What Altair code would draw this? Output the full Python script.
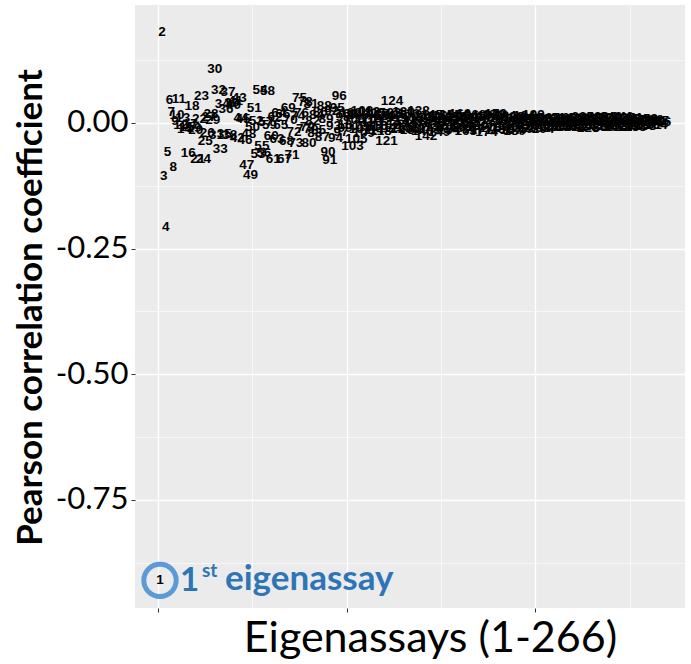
import altair as alt
import pandas as pd

# Pearson correlation of each eigenassay (1..266)
corr = [
    -0.910, 0.180, -0.105, -0.208, -0.057, 0.045, 0.022, -0.087, 0.004, 0.015,
    0.048, -0.005, 0.010, -0.012, -0.008, -0.060, -0.002, 0.034, -0.010, -0.015,
    -0.072, 0.008, 0.054, -0.072, -0.036, -0.020, 0.012, 0.018, 0.005, 0.108,
    -0.025, 0.065, -0.052, 0.038, -0.022, 0.028, 0.062, -0.024, 0.040, 0.035,
    0.044, -0.030, 0.050, 0.010, 0.008, -0.034, -0.083, -0.022, -0.104, -0.008,
    0.030, 0.004, -0.062, 0.066, -0.045, -0.060, 0.002, 0.063, -0.005, -0.026,
    -0.072, 0.012, -0.032, 0.020, -0.004, 0.018, -0.072, -0.036, 0.030, 0.006,
    -0.064, -0.018, -0.040, 0.014, 0.050, 0.020, -0.012, 0.042, -0.008, -0.040,
    0.038, 0.004, -0.020, 0.016, -0.014, 0.022, -0.028, 0.034, 0.008, -0.058,
    -0.074, 0.024, -0.006, -0.030, 0.030, 0.054, -0.018, 0.012, -0.010, 0.018,
    -0.004, 0.020, -0.046, 0.006, -0.032, 0.016, -0.012, 0.024, -0.020, 0.008,
    -0.008, 0.022, 0.002, -0.014, 0.020, -0.006, 0.018, -0.016, 0.010, 0.014,
    -0.036, 0.004, 0.020, 0.043, -0.010, 0.016, -0.004, 0.012, -0.012, 0.022,
    0.006, -0.008, 0.018, -0.014, 0.010, 0.002, -0.010, 0.024, 0.008, -0.016,
    0.014, -0.026, 0.004, -0.012, 0.016, 0.000, -0.008, 0.012, -0.018, 0.010,
    0.014, -0.006, 0.004, -0.014, 0.016, 0.002, -0.010, 0.012, -0.004, 0.018,
    -0.008, 0.006, -0.016, 0.014, 0.000, 0.010, -0.012, 0.016, -0.006, 0.008,
    -0.014, 0.012, 0.004, -0.018, 0.014, -0.010, 0.006, 0.016, 0.018, -0.008,
    0.010, -0.012, 0.004, 0.014, -0.006, 0.008, -0.014, 0.012, -0.016, 0.002,
    0.010, -0.010, 0.006, 0.014, -0.004, 0.008, -0.012, 0.010, 0.016, -0.006,
    0.004, -0.010, 0.008, -0.012, 0.006, -0.004, 0.010, -0.008, 0.002, 0.008,
    -0.006, 0.004, -0.008, 0.010, 0.000, -0.006, 0.008, -0.004, 0.006, 0.010,
    -0.008, 0.002, 0.006, -0.006, 0.012, -0.002, 0.008, -0.010, 0.004, 0.010,
    -0.006, 0.006, 0.012, -0.004, 0.008, -0.008, 0.010, 0.002, -0.006, 0.012,
    0.004, -0.008, 0.010, -0.004, 0.006, 0.012, -0.008, 0.008, 0.000, -0.006,
    0.010, 0.004, -0.008, 0.008, -0.004, 0.006, 0.002, -0.006, 0.008, 0.004,
    -0.004, 0.006, 0.002, -0.004, 0.004, 0.002,
]
index = list(range(1, len(corr) + 1))

x_ticks = [0, 50, 100, 150, 200, 250]
y_ticks = [-0.875, -0.75, -0.625, -0.5, -0.375, -0.25, -0.125, 0.0, 0.125]

df = pd.DataFrame({"idx": index, "r": corr, "lab": [str(i) for i in index]})
ann = pd.DataFrame({"idx": [index[0]], "r": [corr[0]]})

x_scale = alt.Scale(domain=[-12.25, 279.25], nice=False, zero=False)
y_scale = alt.Scale(domain=[-0.965, 0.2345], nice=False, zero=False)

major_x = "datum.value % 100 === 0"
major_y = "abs(datum.value * 4 - round(datum.value * 4)) < 1e-9"

x_axis = alt.Axis(
    values=x_ticks, labels=False, domain=False,
    title="Eigenassays (1-266)", titleFont="Lato", titleFontSize=43,
    titleFontWeight="normal", titleColor="black",
    titleX=295, titleY=30, titleAlign="center", titleBaseline="middle",
    gridColor="white",
    gridWidth={"condition": {"test": major_x, "value": 1.3}, "value": 0.6},
    tickColor="#333333", tickSize=4,
    tickOpacity={"condition": {"test": major_x, "value": 1}, "value": 0},
)
y_axis = alt.Axis(
    values=y_ticks, domain=False,
    labelExpr=f"({major_y}) ? replace(format(datum.value, '.2f'), '\u2212', '-') : ''",
    labelFont="Lato", labelFontSize=31, labelColor="black", labelPadding=3,
    title="Pearson correlation coefficient", titleFont="Lato", titleFontSize=35,
    titleFontWeight="bold", titleColor="black",
    titleX=-105, titleY=302, titleAngle=-90, titleAlign="center", titleBaseline="middle",
    gridColor="white",
    gridWidth={"condition": {"test": major_y, "value": 1.3}, "value": 0.6},
    tickColor="#333333", tickSize=4,
    tickOpacity={"condition": {"test": major_y, "value": 1}, "value": 0},
)

labels = alt.Chart(df).mark_text(
    font="Liberation Sans", fontSize=13.5, fontWeight="bold", color="black"
).encode(
    x=alt.X("idx:Q", scale=x_scale, axis=x_axis),
    y=alt.Y("r:Q", scale=y_scale, axis=y_axis),
    text="lab:N",
)

blue = "#2E75B6"
ring = alt.Chart(ann).mark_point(
    shape="circle", size=1050, filled=False, strokeWidth=5, color="#5B9BD5", opacity=1
).encode(x=alt.X("idx:Q", scale=x_scale), y=alt.Y("r:Q", scale=y_scale))

t1 = alt.Chart(ann).mark_text(
    text="1", font="Lato", fontSize=33, fontWeight="bold", color=blue,
    align="left", baseline="alphabetic", dx=20, dy=11,
).encode(x=alt.X("idx:Q", scale=x_scale), y=alt.Y("r:Q", scale=y_scale))
t2 = alt.Chart(ann).mark_text(
    text="st", font="Lato", fontSize=19, fontWeight="bold", color=blue,
    align="left", baseline="alphabetic", dx=42, dy=-3,
).encode(x=alt.X("idx:Q", scale=x_scale), y=alt.Y("r:Q", scale=y_scale))
t3 = alt.Chart(ann).mark_text(
    text="eigenassay", font="Lato", fontSize=35, fontWeight="bold", color=blue,
    align="left", baseline="alphabetic", dx=65, dy=10,
).encode(x=alt.X("idx:Q", scale=x_scale), y=alt.Y("r:Q", scale=y_scale))

chart = alt.layer(ring, labels, t1, t2, t3).properties(
    width=550, height=603,
    autosize=alt.AutoSizeParams(type="none"),
    padding={"left": 135, "top": 5, "right": 6, "bottom": 56},
    background="white",
).configure_view(fill="#EBEBEB", stroke=None)

chart.save("out.html", embed_options={"renderer": "svg", "actions": False})
